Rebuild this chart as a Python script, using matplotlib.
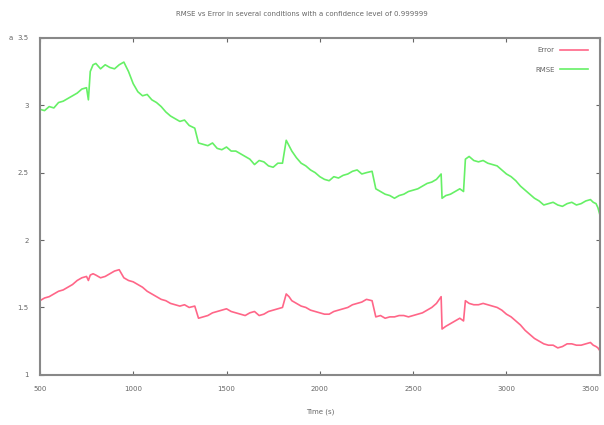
import numpy as np
import matplotlib.pyplot as plt

# time axis shared by both series (s)
t = [500, 525, 550, 575, 600, 625, 650, 675, 700, 725,
     750, 760, 770, 785, 800, 825, 850, 875, 900, 925,
     950, 975, 1000, 1025, 1050, 1075, 1100, 1125, 1150, 1175,
     1200, 1225, 1250, 1275, 1300, 1330, 1350, 1375, 1400, 1425,
     1450, 1475, 1500, 1525, 1550, 1575, 1600, 1625, 1650, 1675,
     1700, 1725, 1750, 1775, 1800, 1820, 1835, 1850, 1875, 1900,
     1925, 1950, 1975, 2000, 2025, 2050, 2075, 2100, 2125, 2150,
     2175, 2200, 2225, 2250, 2280, 2300, 2325, 2350, 2375, 2400,
     2425, 2450, 2475, 2500, 2525, 2550, 2575, 2600, 2625, 2650,
     2655, 2675, 2700, 2725, 2750, 2770, 2780, 2800, 2825, 2850,
     2875, 2900, 2925, 2950, 2975, 3000, 3025, 3050, 3075, 3100,
     3125, 3150, 3175, 3200, 3225, 3250, 3275, 3300, 3325, 3350,
     3375, 3400, 3425, 3450, 3465, 3480, 3490, 3500]

rmse = [2.97, 2.96, 2.99, 2.98, 3.02, 3.03, 3.05, 3.07, 3.09, 3.12,
        3.13, 3.04, 3.25, 3.30, 3.31, 3.27, 3.30, 3.28, 3.27, 3.30,
        3.32, 3.25, 3.16, 3.10, 3.07, 3.08, 3.04, 3.02, 2.99, 2.95,
        2.92, 2.90, 2.88, 2.89, 2.85, 2.83, 2.72, 2.71, 2.70, 2.72,
        2.68, 2.67, 2.69, 2.66, 2.66, 2.64, 2.62, 2.60, 2.56, 2.59,
        2.58, 2.55, 2.54, 2.57, 2.57, 2.74, 2.70, 2.66, 2.61, 2.57,
        2.55, 2.52, 2.50, 2.47, 2.45, 2.44, 2.47, 2.46, 2.48, 2.49,
        2.51, 2.52, 2.49, 2.50, 2.51, 2.38, 2.36, 2.34, 2.33, 2.31,
        2.33, 2.34, 2.36, 2.37, 2.38, 2.40, 2.42, 2.43, 2.45, 2.49,
        2.31, 2.33, 2.34, 2.36, 2.38, 2.36, 2.60, 2.62, 2.59, 2.58,
        2.59, 2.57, 2.56, 2.55, 2.52, 2.49, 2.47, 2.44, 2.40, 2.37,
        2.34, 2.31, 2.29, 2.26, 2.27, 2.28, 2.26, 2.25, 2.27, 2.28,
        2.26, 2.27, 2.29, 2.30, 2.28, 2.27, 2.24, 2.19]

error = [1.55, 1.57, 1.58, 1.60, 1.62, 1.63, 1.65, 1.67, 1.70, 1.72,
         1.73, 1.70, 1.74, 1.75, 1.74, 1.72, 1.73, 1.75, 1.77, 1.78,
         1.72, 1.70, 1.69, 1.67, 1.65, 1.62, 1.60, 1.58, 1.56, 1.55,
         1.53, 1.52, 1.51, 1.52, 1.50, 1.51, 1.42, 1.43, 1.44, 1.46,
         1.47, 1.48, 1.49, 1.47, 1.46, 1.45, 1.44, 1.46, 1.47, 1.44,
         1.45, 1.47, 1.48, 1.49, 1.50, 1.60, 1.58, 1.55, 1.53, 1.51,
         1.50, 1.48, 1.47, 1.46, 1.45, 1.45, 1.47, 1.48, 1.49, 1.50,
         1.52, 1.53, 1.54, 1.56, 1.55, 1.43, 1.44, 1.42, 1.43, 1.43,
         1.44, 1.44, 1.43, 1.44, 1.45, 1.46, 1.48, 1.50, 1.53, 1.58,
         1.34, 1.36, 1.38, 1.40, 1.42, 1.40, 1.55, 1.53, 1.52, 1.52,
         1.53, 1.52, 1.51, 1.50, 1.48, 1.45, 1.43, 1.40, 1.37, 1.33,
         1.30, 1.27, 1.25, 1.23, 1.22, 1.22, 1.20, 1.21, 1.23, 1.23,
         1.22, 1.22, 1.23, 1.24, 1.22, 1.21, 1.20, 1.18]

xticks = [500, 1000, 1500, 2000, 2500, 3000, 3500]
yticks = [1, 1.5, 2, 2.5, 3, 3.5]
ytick_labels = ['1', '1.5', '2', '2.5', '3', '3.5']

grey = '#666666'
fig = plt.figure(figsize=(6.04, 4.25), dpi=100)
ax = fig.add_axes([0.066, 0.118, 0.927, 0.793])

ax.plot(t, error, color='#ff6688', lw=1.2, label='Error')
ax.plot(t, rmse, color='#66f066', lw=1.2, label='RMSE')

ax.set_xlim(500, 3500)
ax.set_ylim(1, 3.5)
ax.set_xticks(xticks)
ax.set_yticks(yticks)
ax.set_yticklabels(ytick_labels)
ax.tick_params(direction='in', top=True, right=True, labelsize=5,
               colors=grey, length=3, pad=8)
ax.get_xticklabels()[-1].set_ha('right')
for s in ax.spines.values():
    s.set_color('#888888')
    s.set_linewidth(1.5)

ax.set_xlabel('Time (s)', fontsize=5, color=grey, labelpad=12)
fig.text(0.5, 0.968, 'RMSE vs Error in several conditions with a confidence level of 0.999999',
         ha='center', va='center', fontsize=5, color=grey)
fig.text(0.018, 0.905, 'a', fontsize=5, color=grey, ha='center')

leg = ax.legend(loc='upper right', frameon=False, markerfirst=False,
                fontsize=5, handlelength=4, labelspacing=1.9,
                bbox_to_anchor=(0.99, 0.99))
for txt in leg.get_texts():
    txt.set_color(grey)

fig.savefig('out.png', dpi=100)
